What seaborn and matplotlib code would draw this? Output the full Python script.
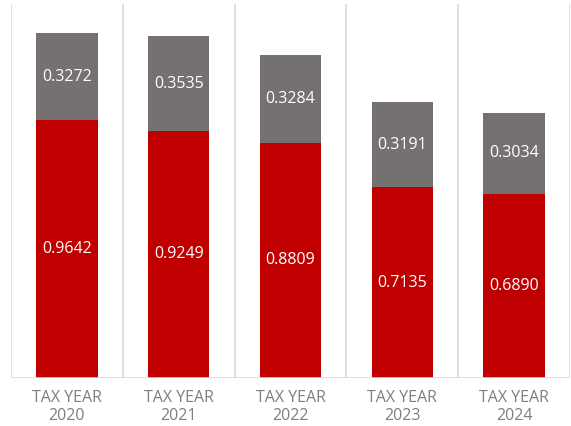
import matplotlib
matplotlib.use("Agg")
import matplotlib.pyplot as plt
import seaborn as sns
import pandas as pd

categories = ["TAX YEAR\n2020", "TAX YEAR\n2021", "TAX YEAR\n2022", "TAX YEAR\n2023", "TAX YEAR\n2024"]
red_values = [0.9642, 0.9249, 0.8809, 0.7135, 0.6890]
gray_values = [0.3272, 0.3535, 0.3284, 0.3191, 0.3034]

RED = "#C00000"
GRAY = "#767171"

sns.set_theme(style="white")
plt.rcParams["font.family"] = ["Open Sans", "DejaVu Sans"]

df = pd.DataFrame({"cat": categories, "red": red_values, "gray": gray_values})
df["total"] = df["red"] + df["gray"]

fig = plt.figure(figsize=(5.71, 4.26), dpi=100)
ax = fig.add_axes([11 / 571, 48 / 426, 559 / 571, 374 / 426])

sns.barplot(data=df, x="cat", y="total", color=GRAY, width=0.55, ax=ax,
            saturation=1, linewidth=0)
sns.barplot(data=df, x="cat", y="red", color=RED, width=0.55, ax=ax,
            saturation=1, linewidth=0)

for i, (r, g) in enumerate(zip(red_values, gray_values)):
    ax.text(i, r / 2, f"{r:.4f}", ha="center", va="center", color="white", fontsize=11.5)
    ax.text(i, r + g / 2, f"{g:.4f}", ha="center", va="center", color="white", fontsize=11.5)

ax.set_xlim(-0.5, 4.5)
ax.set_ylim(0, 1.4)
for x in [-0.5, 0.5, 1.5, 2.5, 3.5, 4.5]:
    ax.axvline(x, color="#D9D9D9", lw=1.2, zorder=0)
ax.axhline(0, color="#D9D9D9", lw=1.2, zorder=3)

for s in ax.spines.values():
    s.set_visible(False)
ax.set_yticks([])
ax.set_xlabel("")
ax.set_ylabel("")
ax.tick_params(axis="x", length=0, pad=9, labelsize=11.5, labelcolor="#7F7F7F")
for lab in ax.get_xticklabels():
    lab.set_linespacing(1.15)

fig.savefig("out.png", dpi=100)
